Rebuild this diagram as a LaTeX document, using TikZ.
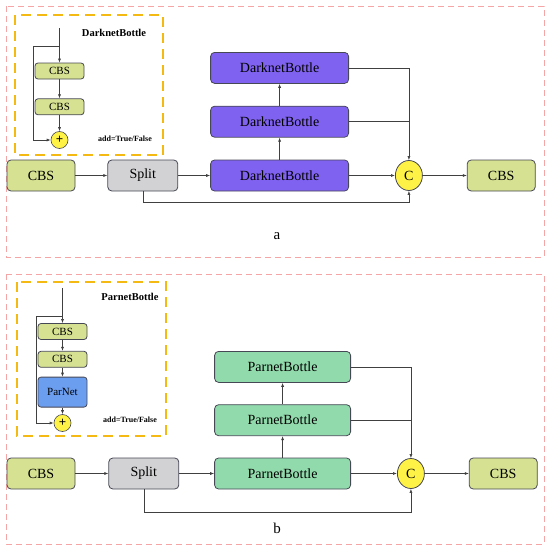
\documentclass[tikz,border=0pt]{standalone}
\usepackage{fontspec}
\setmainfont{Liberation Serif}
\usetikzlibrary{arrows.meta, positioning, calc, shapes.geometric}
\definecolor{cbsgreen}{RGB}{214, 225, 145}
\definecolor{splitgray}{RGB}{210, 210, 212}
\definecolor{darknetpurple}{RGB}{128, 98, 240}
\definecolor{parnetgreen}{RGB}{145, 218, 172}
\definecolor{parnetblue}{RGB}{108, 158, 240}
\definecolor{concatyellow}{RGB}{255, 242, 70}
\definecolor{innerborder}{RGB}{245, 185, 20}
\definecolor{panelpink}{RGB}{245, 165, 165}
\definecolor{edgegray}{RGB}{70, 72, 85}
\tikzset{
  font=\fontsize{14}{16}\selectfont,
  baseblock/.style={
    rectangle, rounded corners=4pt, draw=edgegray, line width=0.8pt,
    minimum height=31pt, inner sep=0pt
  },
  cbsblock/.style={baseblock, fill=cbsgreen, minimum width=68pt},
  splitblock/.style={baseblock, fill=splitgray, minimum width=70pt},
  darknetblock/.style={baseblock, fill=darknetpurple, minimum width=138pt},
  parnetblock/.style={baseblock, fill=parnetgreen, minimum width=136pt},
  smallblock/.style={
    baseblock, rounded corners=3pt, minimum width=49pt, minimum height=16pt,
    font=\fontsize{11}{12}\selectfont
  },
  concatnode/.style={
    ellipse, draw=edgegray, fill=concatyellow, line width=0.8pt,
    minimum width=27pt, minimum height=30pt, inner sep=0pt
  },
  addnode/.style={
    circle, draw=edgegray, fill=concatyellow, line width=0.6pt,
    minimum size=17pt, inner sep=0pt, font=\bfseries\fontsize{13}{13}\selectfont
  },
  titletext/.style={font=\bfseries\fontsize{10.5}{12}\selectfont},
  flagtext/.style={font=\bfseries\fontsize{8}{9}\selectfont},
  panelbox/.style={draw=panelpink, dash pattern=on 6pt off 4pt, line width=0.9pt},
  innerbox/.style={draw=innerborder, dash pattern=on 10pt off 6pt, line width=1.4pt},
  flowline/.style={draw=black!75, -{Latex[length=4pt, width=3pt]}, line width=0.6pt},
  plainline/.style={draw=black!75, line width=0.6pt}
}

\begin{document}
\begin{tikzpicture}[x=1pt, y=-1pt]
  \useasboundingbox (0,0) rectangle (550,546);

  % Panel a: DarknetBottle variant
  \draw[panelbox] (6,6) rectangle (544,257);
  \draw[innerbox] (15,15) rectangle (163,155);

  \node[titletext] (titleA) at (114,33) {DarknetBottle};
  \coordinate (inA) at (59.5,28);
  \coordinate (forkA) at (59.5,46);
  \node[smallblock, fill=cbsgreen] (cbsA1) at (59.5,71) {CBS};
  \node[smallblock, fill=cbsgreen, below=19pt of cbsA1] (cbsA2) {CBS};
  \node[addnode] (addA) at (59.5,140) {+};
  \node[flagtext] (flagA) at (125,139) {add=True/False};

  \draw[flowline] (inA) -- (cbsA1);
  \draw[flowline] (cbsA1) -- (cbsA2);
  \draw[flowline] (cbsA2) -- (addA);
  \draw[flowline] (forkA) -- ++(-26.5,0) |- (addA.west);

  \node[cbsblock] (cbsInA) at (41,175.5) {CBS};
  \node[splitblock, right=32pt of cbsInA] (splitA) {Split};
  \node[darknetblock, right=32pt of splitA] (dbA1) {DarknetBottle};
  \node[darknetblock, above=22pt of dbA1] (dbA2) {DarknetBottle};
  \node[darknetblock, above=22pt of dbA2] (dbA3) {DarknetBottle};
  \node[concatnode, right=46pt of dbA1] (catA) {C};
  \node[cbsblock, right=44pt of catA] (cbsOutA) {CBS};
  \node[font=\fontsize{15}{16}\selectfont] (labelA) at (277,236) {a};

  \draw[flowline] (cbsInA) -- (splitA);
  \draw[flowline] (splitA) -- (dbA1);
  \draw[flowline] (dbA1) -- (catA);
  \draw[flowline] (dbA1) -- (dbA2);
  \draw[flowline] (dbA2) -- (dbA3);
  \draw[plainline] (dbA2.east) -- (dbA2.east -| catA);
  \draw[flowline] (dbA3.east) -| (catA.north);
  \draw[flowline] (splitA.south) -- ++(0,11) -| (catA.south);
  \draw[flowline] (catA) -- (cbsOutA);

  % Panel b: ParnetBottle variant
  \draw[panelbox] (6,274) rectangle (544,544);
  \draw[innerbox] (17,282) rectangle (166,436);

  \node[titletext] (titleB) at (130,297) {ParnetBottle};
  \coordinate (inB) at (62.5,288);
  \coordinate (forkB) at (62.5,316);
  \node[smallblock, fill=cbsgreen] (cbsB1) at (62.5,331.5) {CBS};
  \node[smallblock, fill=cbsgreen, below=11pt of cbsB1] (cbsB2) {CBS};
  \node[smallblock, fill=parnetblue, minimum height=30pt, below=9pt of cbsB2] (parnetB) {ParNet};
  \node[addnode] (addB) at (62.5,423) {+};
  \node[flagtext] (flagB) at (130,420) {add=True/False};

  \draw[flowline] (inB) -- (cbsB1);
  \draw[flowline] (cbsB1) -- (cbsB2);
  \draw[flowline] (cbsB2) -- (parnetB);
  \draw[flowline] (parnetB) -- (addB);
  \draw[flowline] (forkB) -- ++(-26.5,0) |- (addB.west);

  \node[cbsblock] (cbsInB) at (41,473.5) {CBS};
  \node[splitblock, right=33pt of cbsInB] (splitB) {Split};
  \node[parnetblock, right=35pt of splitB] (pbB1) {ParnetBottle};
  \node[parnetblock, above=21.5pt of pbB1] (pbB2) {ParnetBottle};
  \node[parnetblock, above=21.5pt of pbB2] (pbB3) {ParnetBottle};
  \node[concatnode, right=46pt of pbB1] (catB) {C};
  \node[cbsblock, right=44pt of catB] (cbsOutB) {CBS};
  \node[font=\fontsize{15}{16}\selectfont] (labelB) at (277,528) {b};

  \draw[flowline] (cbsInB) -- (splitB);
  \draw[flowline] (splitB) -- (pbB1);
  \draw[flowline] (pbB1) -- (catB);
  \draw[flowline] (pbB1) -- (pbB2);
  \draw[flowline] (pbB2) -- (pbB3);
  \draw[plainline] (pbB2.east) -- (pbB2.east -| catB);
  \draw[flowline] (pbB3.east) -| (catB.north);
  \draw[flowline] (splitB.south) -- ++(0,23) -| (catB.south);
  \draw[flowline] (catB) -- (cbsOutB);
\end{tikzpicture}
\end{document}
